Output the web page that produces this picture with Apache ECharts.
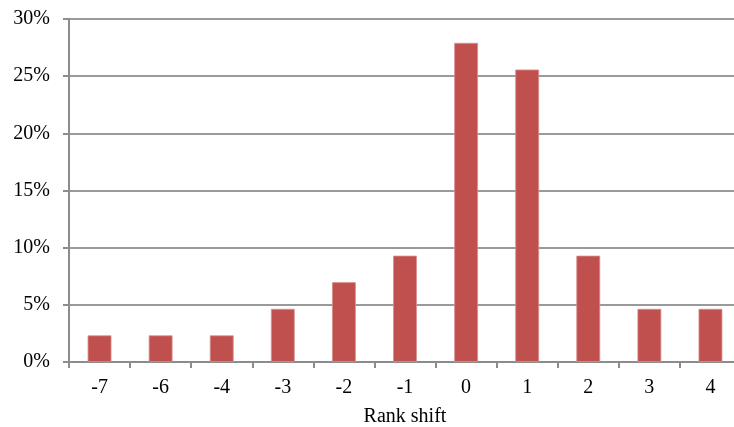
<!DOCTYPE html>
<html><head><meta charset="utf-8">
<script src="https://cdn.jsdelivr.net/npm/echarts@6/dist/echarts.min.js"></script>
<style>html,body{margin:0;padding:0;background:#fff}#c{width:734px;height:427px}</style>
</head><body><div id="c"></div>
<script>
const categories = ['-7','-6','-4','-3','-2','-1','0','1','2','3','4'];
const shares = [2.33, 2.33, 2.33, 4.65, 6.98, 9.30, 27.91, 25.58, 9.30, 4.65, 4.65];
const yTicks = [0, 5, 10, 15, 20, 25, 30];
const font = '"Liberation Serif", "Times New Roman", serif';
const chart = echarts.init(document.getElementById('c'));
chart.setOption({
  animation: false,
  grid: {left: 69, width: 672, top: 19, height: 343, containLabel: false, outerBoundsMode: 'none'},
  xAxis: {
    type: 'category', data: categories,
    name: 'Rank shift', nameLocation: 'middle', nameGap: 45,
    nameTextStyle: {fontFamily: font, fontSize: 20, color: '#000'},
    axisLine: {lineStyle: {color: '#8c8c8c', width: 2}},
    axisTick: {show: true, length: 6, lineStyle: {color: '#8c8c8c', width: 2}},
    axisLabel: {fontFamily: font, fontSize: 20, color: '#000', margin: 16}
  },
  yAxis: {
    type: 'value', min: yTicks[0], max: yTicks[yTicks.length-1], interval: 5,
    axisLine: {show: true, lineStyle: {color: '#8c8c8c', width: 2}},
    axisTick: {show: true, length: 6, lineStyle: {color: '#8c8c8c', width: 2}},
    splitLine: {lineStyle: {color: '#9a9a9a', width: 2}},
    axisLabel: {fontFamily: font, fontSize: 20, color: '#000', margin: 19, formatter: v => v + '%'}
  },
  series: [{
    type: 'bar', data: shares, barWidth: '39%',
    itemStyle: {color: '#C0504D', borderColor: '#d9908e', borderWidth: 0.8}
  }]
});
</script></body></html>
